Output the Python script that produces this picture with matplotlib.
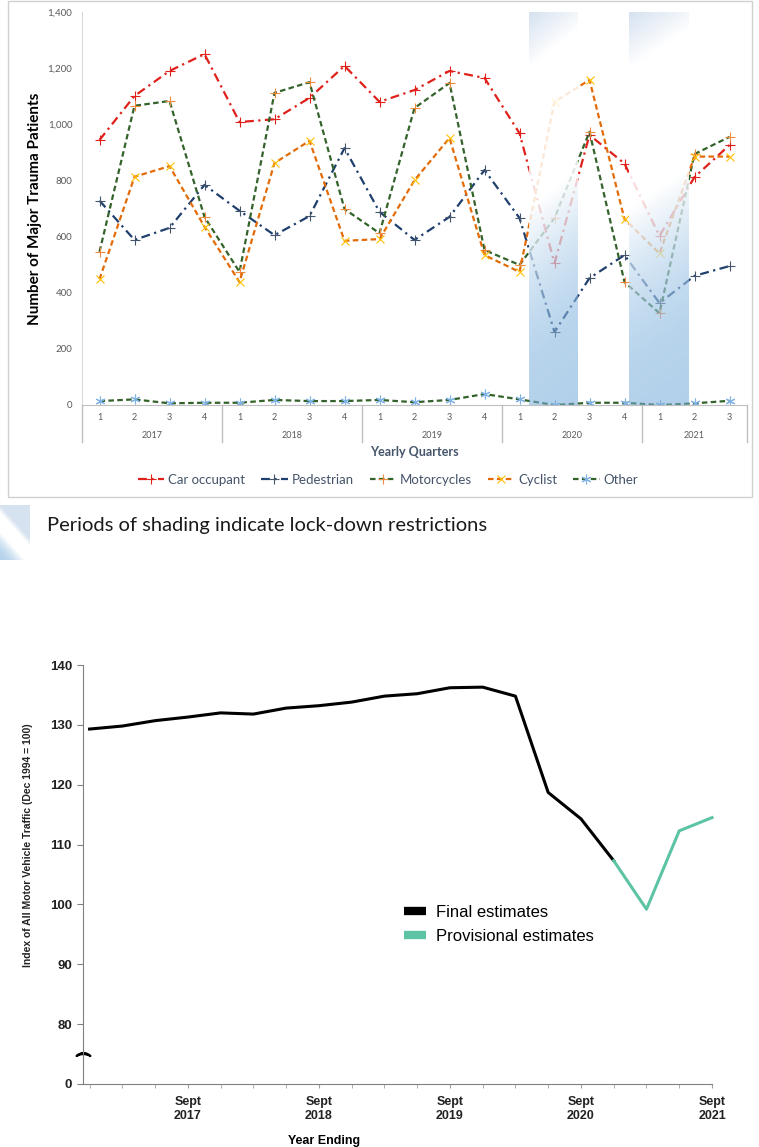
import numpy as np
import matplotlib.pyplot as plt
from matplotlib.patches import Rectangle

W, H = 759, 1147

# --- top chart: major trauma patients by quarter ---
quarters = ['1', '2', '3', '4'] * 4 + ['1', '2', '3']
years = ['2017', '2018', '2019', '2020', '2021']
year_len = [4, 4, 4, 4, 3]
car = [944, 1101, 1190, 1250, 1008, 1018, 1094, 1208, 1080, 1122, 1190, 1165, 968, 505, 962, 860, 602, 812, 926]
ped = [728, 588, 631, 784, 692, 605, 673, 915, 688, 588, 670, 837, 666, 260, 452, 534, 363, 460, 495]
moto = [546, 1066, 1083, 670, 474, 1112, 1150, 698, 612, 1058, 1147, 552, 499, 666, 973, 438, 327, 894, 955]
cyc = [448, 813, 851, 635, 438, 862, 941, 585, 591, 801, 951, 534, 474, 1080, 1158, 662, 540, 885, 885]
other = [14, 20, 6, 8, 8, 18, 14, 14, 18, 10, 18, 39, 20, 0, 8, 8, 0, 6, 15]
lockdowns = [(12.28, 13.68), (15.14, 16.83)]

# --- bottom chart: traffic index, quarters Dec 2016 .. Sept 2021 ---
traffic = [129.3, 129.8, 130.7, 131.3, 132.0, 131.8, 132.8, 133.2, 133.8, 134.8,
           135.2, 136.2, 136.3, 134.8, 118.7, 114.3, 107.3, 99.2, 112.3, 114.5]
last_final = 16  # Dec 2020
sept_labels = ['Sept\n2017', 'Sept\n2018', 'Sept\n2019', 'Sept\n2020', 'Sept\n2021']
sept_pos = [3, 7, 11, 15, 19]


def gradient(n, m, slant):
    # shading used for the lockdown periods: blue at the bottom, white middle, greyish top
    v = np.linspace(1, 0, n)[:, None]
    u = np.linspace(0, 1, m)[None, :]
    t = v - slant * u
    stops = [-0.3, 0.12, 0.5, 0.86, 1.0]
    cols = np.array([[0.45, 0.66, 0.85], [0.50, 0.70, 0.87], [1, 1, 1], [1, 1, 1], [0.80, 0.86, 0.93]])
    alph = np.array([0.6, 0.55, 0.85, 0.85, 0.8])
    img = np.zeros((n, m, 4))
    for c in range(3):
        img[..., c] = np.interp(t, stops, cols[:, c])
    img[..., 3] = np.interp(t, stops, alph)
    return img


fig = plt.figure(figsize=(W / 100, H / 100), dpi=100)
plt.rcParams['font.family'] = ['Lato', 'DejaVu Sans']

fig.add_artist(Rectangle((8 / W, 1 - 497 / H), 744 / W, 496 / H, transform=fig.transFigure,
                         fill=False, ec='#d0d0d0', lw=1))

ax1 = fig.add_axes([82 / W, 1 - 405 / H, 665 / W, 393 / H])
x = np.arange(len(quarters))

ax1.plot(x, car, color='#e0201b', lw=1.6, ls=(0, (4, 2, 1, 2)), marker='+', ms=7, mec='#e0201b', mew=0.8, label='Car occupant')
ax1.plot(x, ped, color='#1f3f6e', lw=1.6, ls=(0, (4, 2, 1, 2)), marker='+', ms=7, mec='#44546a', mew=0.8, label='Pedestrian')
ax1.plot(x, moto, color='#33632a', lw=1.6, ls=(0, (2.5, 1.5)), marker='+', ms=7, mec='#f08a3c', mew=0.8, label='Motorcycles')
ax1.plot(x, cyc, color='#e36c09', lw=1.6, ls=(0, (2.5, 1.5)), marker='x', ms=6, mec='#ffc000', mew=0.8, label='Cyclist')
ax1.plot(x, other, color='#33632a', lw=1.6, ls=(0, (2.5, 1.5)), marker=(6, 2, 0), ms=7, mec='#7fb2e5', mew=0.8, label='Other')

band = gradient(300, 40, 0.1)
for x0, x1 in lockdowns:
    ax1.imshow(band, extent=(x0, x1, 0, 1400), aspect='auto', zorder=5, interpolation='bilinear')

ax1.set_xlim(-0.5, len(quarters) - 0.5)
ax1.set_ylim(0, 1400)
ax1.set_yticks(range(0, 1401, 200))
ax1.set_yticklabels([f'{v:,}' for v in range(0, 1401, 200)])
ax1.tick_params(axis='y', length=0, labelsize=7, colors='#595959', pad=7)
ax1.set_xticks([])
for s in ['top', 'right']:
    ax1.spines[s].set_visible(False)
ax1.spines['left'].set_color('#d9d9d9')
ax1.spines['bottom'].set_color('#bfbfbf')

tr = ax1.get_xaxis_transform()
for i, q in enumerate(quarters):
    ax1.text(i, -13 / 393, q, transform=tr, ha='center', va='center', fontsize=6.5, color='#595959')
start = 0
for yr, n in zip(years, year_len):
    ax1.text(start + (n - 1) / 2, -30 / 393, yr, transform=tr, ha='center', va='center', fontsize=6.5, color='#595959')
    ax1.plot([start - 0.5, start - 0.5], [0, -37 / 393], transform=tr, color='#bfbfbf', lw=1, clip_on=False)
    start += n
ax1.plot([start - 0.5, start - 0.5], [0, -37 / 393], transform=tr, color='#bfbfbf', lw=1, clip_on=False)

ax1.text(0.5, -47 / 393, 'Yearly Quarters', transform=ax1.transAxes, ha='center', va='center',
         fontsize=9, fontweight='bold', color='#44546a')
ax1.set_ylabel('Number of Major Trauma Patients', fontsize=11, fontweight='bold', color='black', labelpad=4)

ax1.legend(loc='center', bbox_to_anchor=(388 / W, 1 - 480 / H), bbox_transform=fig.transFigure, ncol=5,
           frameon=False, fontsize=9.5, labelcolor='#44546a', handlelength=2.0, handletextpad=0.3,
           columnspacing=1.2)

# note with icon
axi = fig.add_axes([0, 1 - 560 / H, 30 / W, 55 / H])
axi.imshow(gradient(60, 30, -0.6), aspect='auto', extent=(0, 1, 0, 1), interpolation='bilinear')
axi.axis('off')
fig.text(47 / W, 1 - 525 / H, 'Periods of shading indicate lock-down restrictions', fontsize=14.5,
         va='center', ha='left', color='#1a1a1a')

# --- bottom chart ---
ax2 = fig.add_axes([83 / W, 1 - 1084 / H, 629 / W, 419 / H])
xt = np.arange(len(traffic))
ax2.plot(xt[:last_final + 1], traffic[:last_final + 1], color='black', lw=2.2, clip_on=False, label='Final estimates')
ax2.plot(xt[last_final:], traffic[last_final:], color='#5cc4a4', lw=2.2, clip_on=False, label='Provisional estimates')
ax2.set_xlim(-0.2, len(traffic) - 1)
ax2.set_ylim(70, 140)
ax2.set_yticks([70, 80, 90, 100, 110, 120, 130, 140])
ax2.set_yticklabels(['0', '80', '90', '100', '110', '120', '130', '140'])
ax2.set_xticks(sept_pos)
ax2.set_xticklabels(sept_labels, fontweight='bold', fontsize=9, family='Liberation Sans', linespacing=1.15)
ax2.set_xticks(xt, minor=True)
for lab in ax2.get_yticklabels():
    lab.set_fontweight('bold')
    lab.set_family('Liberation Sans')
    lab.set_fontsize(9.5)
ax2.tick_params(axis='both', which='both', length=4, color='#808080', colors='#222222')
ax2.tick_params(axis='x', which='both', length=3, color='#a0a0a0', pad=6)
ax2.tick_params(axis='y', length=4, pad=4)
for s in ['top', 'right']:
    ax2.spines[s].set_visible(False)
ax2.spines['left'].set_color('#808080')
ax2.spines['bottom'].set_color('#808080')

# axis break mark
ax2.plot([-0.2], [75], marker=r'$\frown$', ms=10, color='black', mew=1.5, clip_on=False)

ax2.set_xlabel('Year Ending', fontweight='bold', fontsize=9, family='Liberation Sans')
ax2.xaxis.set_label_coords((324 - 83) / 629, -(1135 - 1084) / 419)
fig.text(28 / W, 1 - 845 / H, 'Index of All Motor Vehicle Traffic (Dec 1994 = 100)', rotation=90,
         ha='center', va='center', fontsize=7.5, fontweight='bold', family='Liberation Sans', color='#222222')

ax2.legend(loc='upper left', bbox_to_anchor=(404 / W, 1 - 905 / H), bbox_transform=fig.transFigure,
           frameon=False, prop={'family': 'Liberation Sans', 'size': 12}, handlelength=1.3,
           handletextpad=0.6, labelspacing=0.55, borderaxespad=0, borderpad=0)
for h in ax2.get_legend().get_lines():
    h.set_linewidth(6)
    h.set_solid_capstyle('butt')

fig.savefig('out.png', dpi=100)
